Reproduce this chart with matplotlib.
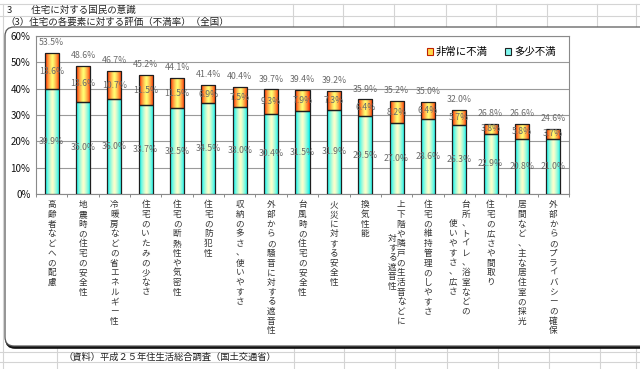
import matplotlib
matplotlib.use('Agg')
import matplotlib.pyplot as plt
import numpy as np
from matplotlib.patches import FancyBboxPatch, Patch
from matplotlib.lines import Line2D
import matplotlib.transforms as mtransforms

plt.rcParams['font.family'] = ['Noto Sans CJK JP', 'DejaVu Sans']

# ---------------- data ----------------
categories = [
    "高齢者などへの配慮",
    "地震時の住宅の安全性",
    "冷暖房などの省エネルギー性",
    "住宅のいたみの少なさ",
    "住宅の断熱性や気密性",
    "住宅の防犯性",
    "収納の多さ、使いやすさ",
    "外部からの騒音に対する遮音性",
    "台風時の住宅の安全性",
    "火災に対する安全性",
    "換気性能",
    "上下階や隣戸の生活音などに|対する遮音性",
    "住宅の維持管理のしやすさ",
    "台所、トイレ、浴室などの|使いやすさ、広さ",
    "住宅の広さや間取り",
    "居間など、主な居住室の採光",
    "外部からのプライバシーの確保",
]
very_dissatisfied = [13.6, 13.6, 10.7, 11.5, 11.5, 6.9, 7.5, 9.3, 7.9, 7.3, 6.4, 8.2, 6.4, 5.7, 3.8, 5.8, 3.7]
somewhat_dissatisfied = [39.9, 35.0, 36.0, 33.7, 32.5, 34.5, 33.0, 30.4, 31.5, 31.9, 29.5, 27.0, 28.6, 26.3, 22.9, 20.8, 21.0]
totals = [53.5, 48.6, 46.7, 45.2, 44.1, 41.4, 40.4, 39.7, 39.4, 39.2, 35.9, 35.2, 35.0, 32.0, 26.8, 26.6, 24.6]
series_names = ["非常に不満", "多少不満"]
yticks = [0, 10, 20, 30, 40, 50, 60]
title1 = "3　　住宅に対する国民の意識"
title2 = "（3）住宅の各要素に対する評価（不満率）（全国）"
source = "（資料）平成２５年住生活総合調査（国土交通省）"

# ---------------- figure ----------------
W, H = 640, 369
fig = plt.figure(figsize=(W / 100, H / 100), dpi=100)
fig.patch.set_facecolor('white')

def fx(x):
    return x / W

def fy(y):
    return 1 - y / H

cell = '#d4d4d4'

def hline(y, x0, x1, color=cell, lw=0.8, z=-20):
    fig.add_artist(Line2D([fx(x0), fx(x1)], [fy(y), fy(y)], color=color, lw=lw,
                          transform=fig.transFigure, zorder=z))

def vline(x, y0, y1, color=cell, lw=0.8, z=-20):
    fig.add_artist(Line2D([fx(x), fx(x)], [fy(y0), fy(y1)], color=color, lw=lw,
                          transform=fig.transFigure, zorder=z))

# spreadsheet cells
for y in (4, 16):
    hline(y, 0, 640)
vline(3, 4, 369)
for x in (293, 343, 394, 446, 496, 547, 597):
    vline(x, 4, 27)
vline(636, 4, 369)
for y in (352, 362):
    hline(y, 0, 640)
for x in (57, 294, 344, 395, 447, 498, 549, 600):
    vline(x, 346, 369)

# chart frame (rounded, with shadow), in inch units
def inch_box(x0, y0, x1, y1, **kw):
    return FancyBboxPatch((x0 / 100, (H - y1) / 100), (x1 - x0) / 100, (y1 - y0) / 100,
                          boxstyle="round,pad=0,rounding_size=0.09",
                          transform=fig.dpi_scale_trans, **kw)

fig.add_artist(inch_box(6, 29, 662, 348, facecolor='#111111', edgecolor='#111111', lw=1.2, zorder=-11))
fig.add_artist(inch_box(5, 27, 660, 346, facecolor='white', edgecolor='#5a5a5a', lw=0.9, zorder=-10))

# titles / source
fig.text(fx(7), fy(10), title1, fontsize=6.8, va='center', ha='left', color='#222222')
fig.text(fx(5), fy(22), title2, fontsize=6.8, va='center', ha='left', color='#222222')
fig.text(fx(64), fy(357), source, fontsize=6.7, va='center', ha='left', color='#222222')

# ---------------- axes ----------------
ax = fig.add_axes([fx(36), fy(194), (569 - 36) / W, (194 - 36) / H])
ax.set_facecolor('white')
x = np.arange(len(categories))
bw = 0.45

b_low = ax.bar(x, somewhat_dissatisfied, width=bw, facecolor='none', edgecolor='#1e1e1e',
               lw=0.9, zorder=4)
b_high = ax.bar(x, very_dissatisfied, bottom=somewhat_dissatisfied, width=bw, facecolor='none',
                edgecolor='#1e1e1e', lw=0.9, zorder=4)

def gradient(edge, center, n=64):
    t = np.linspace(0, 1, n)
    d = np.abs(t - 0.5) * 2
    d = d ** 1.3
    edge = np.array(edge)
    center = np.array(center)
    g = center[None, :] * (1 - d[:, None]) + edge[None, :] * d[:, None]
    return g[None, :, :]

g_low = gradient((0.0, 0.95, 0.95), (1.0, 1.0, 0.80))
g_high = gradient((1.0, 0.15, 0.0), (1.0, 1.0, 0.45))

for bars, g in ((b_low, g_low), (b_high, g_high)):
    for r in bars:
        x0, y0, w, h = r.get_x(), r.get_y(), r.get_width(), r.get_height()
        im = ax.imshow(g, extent=[x0, x0 + w, y0, y0 + h], aspect='auto',
                       interpolation='bilinear', zorder=3)
        im.set_clip_path(r)

lab_kw = dict(ha='center', va='center', fontsize=6.3, color='#6a6a6a', zorder=6)
for i in range(len(categories)):
    s = somewhat_dissatisfied[i]
    v = very_dissatisfied[i]
    ax.text(x[i], s / 2, f"{s:.1f}%", **lab_kw)
    ax.text(x[i], s + v / 2, f"{v:.1f}%", **lab_kw)
    ax.annotate(f"{totals[i]:.1f}%", (x[i], s + v), xytext=(0, 7.5),
                textcoords='offset points', **lab_kw)

ax.set_xlim(-0.5, len(categories) - 0.5)
ax.set_ylim(0, 60)
ax.set_yticks(yticks)
ax.set_yticklabels([f"{t}%" for t in yticks], fontsize=7, color='#111111')
ax.tick_params(axis='y', length=0, pad=4)
ax.set_xticks(x)
ax.set_xticklabels([''] * len(categories))
ax.tick_params(axis='x', which='major', length=0)
ax.set_xticks(np.arange(len(categories) + 1) - 0.5, minor=True)
ax.tick_params(axis='x', which='minor', length=2.5, color='#777777', direction='out')
ax.yaxis.grid(True, color='#9a9a9a', lw=0.8)
ax.set_axisbelow(True)
for sp in ax.spines.values():
    sp.set_color('#8a8a8a')
    sp.set_linewidth(0.8)

# vertical category labels
trans = mtransforms.blended_transform_factory(ax.transData, ax.transAxes)
cat_kw = dict(ha='center', fontsize=6.2, linespacing=1.1, color='#333333')
top_y = -0.04
line_px = 9.5
for i, lbl in enumerate(categories):
    parts = lbl.split('|')
    if len(parts) == 1:
        ax.text(x[i], top_y, '\n'.join(lbl), transform=trans, va='top', **cat_kw)
    else:
        right, left = parts
        shift = (len(right) - len(left)) / 2 * line_px
        dx = 4.5 if i != 13 else 6.5
        off_r = mtransforms.ScaledTranslation(dx / 100, 0, fig.dpi_scale_trans)
        off_l = mtransforms.ScaledTranslation(-dx / 100, -shift / 100, fig.dpi_scale_trans)
        ax.text(x[i], top_y, '\n'.join(right), transform=trans + off_r, va='top', **cat_kw)
        ax.text(x[i], top_y, '\n'.join(left), transform=trans + off_l, va='top', **cat_kw)

# legend
handles = [Patch(facecolor='#ffd84a', edgecolor='#c02000', lw=0.8),
           Patch(facecolor='#7ff7ee', edgecolor='#222222', lw=0.8)]
ax.legend(handles, series_names, loc='center', bbox_to_anchor=(fx(491), fy(52)),
          bbox_transform=fig.transFigure, ncol=2, frameon=False, fontsize=7.5,
          handlelength=0.6, handleheight=0.6, handletextpad=0.3, columnspacing=1.6,
          borderpad=0, borderaxespad=0)

fig.savefig('out.png', dpi=100, facecolor='white')
